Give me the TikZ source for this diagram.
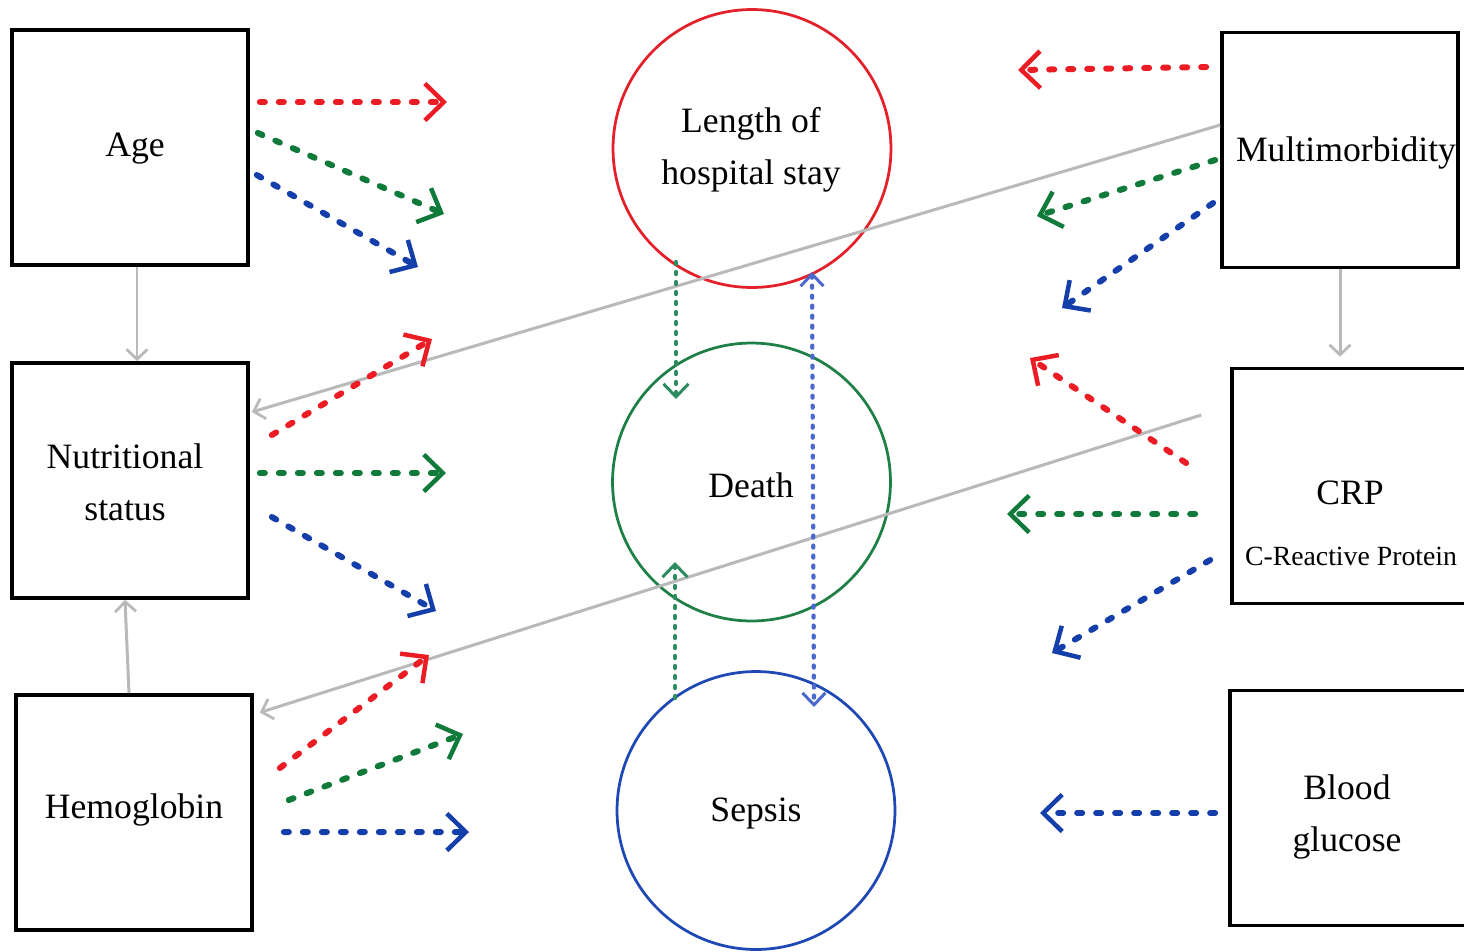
\documentclass[tikz,border=0pt]{standalone}
\usepackage{fontspec}
\setmainfont{Liberation Serif}
\usetikzlibrary{arrows.meta,calc}
\definecolor{cred}{RGB}{235,28,36}
\definecolor{cgreen}{RGB}{16,122,58}
\definecolor{cblue}{RGB}{20,62,170}
\definecolor{vgreen}{RGB}{45,140,95}
\definecolor{vblue}{RGB}{75,105,205}
\definecolor{cgray}{RGB}{185,185,185}
\definecolor{rred}{RGB}{228,32,42}
\definecolor{rgreen}{RGB}{30,128,70}
\definecolor{rblue}{RGB}{30,72,180}
\begin{document}
\begin{tikzpicture}[x=0.02cm,y=-0.02cm,
  box/.style={draw=black, line width=0.075cm, minimum width=4.72cm, minimum height=4.7cm, inner sep=0pt, align=center, font=\fontsize{20.3}{29.5}\selectfont},
  ring/.style={draw, circle, line width=0.055cm, minimum size=5.56cm, inner sep=0pt, align=center, font=\fontsize{20.3}{29.5}\selectfont},
  lbl/.style={inner sep=0pt, align=center, font=\fontsize{20.3}{29.5}\selectfont},
  flowarrow/.style={line width=0.12cm, line cap=round, dash pattern=on 0.1cm off 0.28cm, -{Straight Barb[length=0.38cm,width=0.74cm,line width=0.09cm]}},
  vflow/.style={line width=0.085cm, line cap=round, dash pattern=on 0.04cm off 0.16cm},
  link/.style={draw=cgray, line width=0.06cm, -{Straight Barb[length=0.2cm,width=0.42cm,line width=0.055cm]}},
]
\useasboundingbox (0,0) rectangle (1464,951);
\fill[white] (0,0) rectangle (1464,951);

% boxes
\node[box] (age) at (130,147.5) {};
\node[lbl] (agetxt) at (135,149) {Age};
\node[box] (nut) at (130,480.5) {};
\node[lbl] (nuttxt) at (125,482) {Nutritional\\status};
\node[box] (hem) at (134,812.5) {};
\node[lbl] (hemtxt) at (134,810) {Hemoglobin};
\node[box] (mult) at (1340,150) {};
\node[lbl] (multtxt) at (1346,153) {Multimorbidity};
\node[box] (crp) at (1350,486) {};
\node[lbl] (crptxt) at (1350,493) {CRP};
\node[lbl, font=\fontsize{15.8}{18}\selectfont] (crpfull) at (1351,556) {C-Reactive Protein};
\node[box] (glu) at (1348,808) {};
\node[lbl] (glutxt) at (1347,817) {Blood\\glucose};

% circles
\node[ring, draw=rred] (los) at (752,148.5) {};
\node[lbl] (lostxt) at (751,150) {Length of\\hospital stay};
\node[ring, draw=rgreen] (death) at (751.5,482) {};
\node[lbl] (deathtxt) at (751,485) {Death};
\node[ring, draw=rblue] (sep) at (756,810.5) {};
\node[lbl] (septxt) at (756,813) {Sepsis};

% free ends
\coordinate (e1) at (447,102);
\coordinate (e2) at (444,214);
\coordinate (e3) at (418,267);
\coordinate (e4) at (432,339);
\coordinate (e5) at (446,473);
\coordinate (e6) at (436,611);
\coordinate (e7) at (429,655);
\coordinate (e8) at (463,734);
\coordinate (e9) at (469,832);
\coordinate (e10) at (1018,70);
\coordinate (e11) at (1037,216);
\coordinate (e12) at (1062,308);
\coordinate (e13) at (1030,358);
\coordinate (e14) at (1007,514);
\coordinate (e15) at (1052,653);
\coordinate (e16) at (1040,813);
\coordinate (v1) at (676,399);
\coordinate (v2) at (675,562);

% gray links
\draw[link] ([xshift=0.14cm]age.south) -- ([xshift=0.14cm]nut.north);
\draw[link] ([xshift=-0.1cm]hem.north) -- ([xshift=-0.1cm]nut.south);
\draw[link, shorten >=0.2cm] (mult.south) -- (mult.south |- crp.north);
\draw[link] ([yshift=0.5cm]mult.west) -- ([xshift=0.04cm,yshift=1.37cm]nut.east);
\draw[link] ([xshift=-0.58cm,yshift=1.42cm]crp.west) -- ([xshift=0.12cm,yshift=2cm]hem.east);

% age
\draw[flowarrow, cred]   ([shift={(10,-45.5)}]age.east) -- (e1);
\draw[flowarrow, cgreen] ([shift={(8,-14.5)}]age.east) -- (e2);
\draw[flowarrow, cblue]  ([shift={(7,27.5)}]age.east) -- (e3);
% nutritional
\draw[flowarrow, cred]   ([shift={(22,-45.5)}]nut.east) -- (e4);
\draw[flowarrow, cgreen] ([shift={(10,-7.5)}]nut.east) -- (e5);
\draw[flowarrow, cblue]  ([shift={(22,36.5)}]nut.east) -- (e6);
% hemoglobin
\draw[flowarrow, cred]   ([shift={(26,-44.5)}]hem.east) -- (e7);
\draw[flowarrow, cgreen] ([shift={(35,-12.5)}]hem.east) -- (e8);
\draw[flowarrow, cblue]  ([shift={(30,19.5)}]hem.east) -- (e9);
% multimorbidity
\draw[flowarrow, cred]   ([shift={(-14,-83)}]mult.west) -- (e10);
\draw[flowarrow, cgreen] ([shift={(-5,10)}]mult.west) -- (e11);
\draw[flowarrow, cblue]  ([shift={(-7,53)}]mult.west) -- (e12);
% crp
\draw[flowarrow, cred]   ([shift={(-44,-23)}]crp.west) -- (e13);
\draw[flowarrow, cgreen] ([shift={(-35,28)}]crp.west) -- (e14);
\draw[flowarrow, cblue]  ([shift={(-20,74)}]crp.west) -- (e15);
% glucose
\draw[flowarrow, cblue]  ([shift={(-13,5)}]glu.west) -- (e16);

% vertical dotted
\draw[vflow, vgreen, -{Straight Barb[length=0.26cm,width=0.5cm,line width=0.06cm]}] ([shift={(-76,113.5)}]los.center) -- (v1);
\draw[vflow, vgreen, -{Straight Barb[length=0.26cm,width=0.5cm,line width=0.06cm]}] ([shift={(-81,-112.5)}]sep.center) -- (v2);
\draw[vflow, vblue, {Straight Barb[length=0.24cm,width=0.46cm,line width=0.06cm]}-{Straight Barb[length=0.24cm,width=0.46cm,line width=0.06cm]}] ([shift={(60,123.5)}]los.center) -- ([shift={(58,-103.5)}]sep.center);
\end{tikzpicture}
\end{document}
